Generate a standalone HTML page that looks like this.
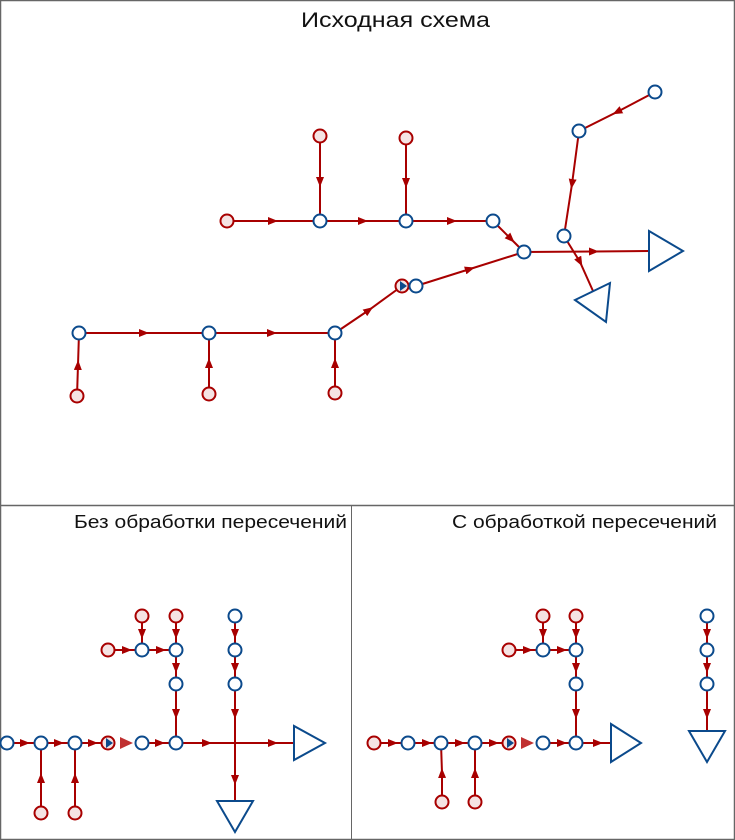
<!DOCTYPE html>
<html><head><meta charset="utf-8"><style>
html,body{margin:0;padding:0;background:#fff}
svg{display:block}
text{font-family:"Liberation Sans",sans-serif;fill:#111}
.e{stroke:#a80000;stroke-width:2;fill:none;marker-mid:url(#a)}
.r{fill:#f5e3e3;stroke:#a80000;stroke-width:2}
.b{fill:#fff;stroke:#0b4a8c;stroke-width:2}
.t{fill:#fff;stroke:#0b4a8c;stroke-width:2;stroke-linejoin:miter}
</style></head><body>
<svg width="735" height="840" viewBox="0 0 735 840" xmlns="http://www.w3.org/2000/svg">
<defs>
<marker id="a" viewBox="0 0 10 10" refX="5" refY="5" markerWidth="10" markerHeight="8" orient="auto" markerUnits="userSpaceOnUse" preserveAspectRatio="none"><path d="M0,0 L10,5 L0,10 z" fill="#a80000"/></marker>
</defs>
<rect x="0.5" y="0.5" width="734" height="839" fill="none" stroke="#666" stroke-width="1.5"/>
<line x1="0" y1="505.5" x2="735" y2="505.5" stroke="#666" stroke-width="1.5"/>
<line x1="351.5" y1="505" x2="351.5" y2="840" stroke="#666" stroke-width="1"/>
<text x="301" y="27" font-size="21" textLength="189" lengthAdjust="spacingAndGlyphs">Исходная схема</text>
<text x="74" y="528" font-size="18" textLength="273" lengthAdjust="spacingAndGlyphs">Без обработки пересечений</text>
<text x="452" y="528" font-size="18" textLength="265" lengthAdjust="spacingAndGlyphs">С обработкой пересечений</text>

<!-- TOP -->
<path class="e" d="M227,221 L273,221 L320,221"/>
<path class="e" d="M320,221 L363,221 L406,221"/>
<path class="e" d="M406,221 L452,221 L493,221"/>
<path class="e" d="M320,136 L320,182 L320,221"/>
<path class="e" d="M406,138 L406,183 L406,221"/>
<path class="e" d="M493,221 L511,239 L524,252"/>
<path class="e" d="M416,286 L470,269 L524,252"/>
<path class="e" d="M524,252 L594,251.5 L649,251"/>
<path class="e" d="M655,92 L617,112 L579,131"/>
<path class="e" d="M579,131 L572,184 L564,236"/>
<path class="e" d="M564,236 L580,262 L593,291"/>
<path class="e" d="M79,333 L144,333 L209,333"/>
<path class="e" d="M209,333 L272,333 L335,333"/>
<path class="e" d="M335,333 L369,310 L402,286"/>
<path class="e" d="M77,396 L78,365 L79,333"/>
<path class="e" d="M209,394 L209,363 L209,333"/>
<path class="e" d="M335,393 L335,363 L335,333"/>
<polygon class="t" points="649,231 649,271 683,251"/>
<polygon class="t" points="575,300 610,283 606,322"/>
<circle class="r" cx="227" cy="221" r="6.5"/>
<circle class="r" cx="320" cy="136" r="6.5"/>
<circle class="r" cx="406" cy="138" r="6.5"/>
<circle class="r" cx="77" cy="396" r="6.5"/>
<circle class="r" cx="209" cy="394" r="6.5"/>
<circle class="r" cx="335" cy="393" r="6.5"/>
<circle class="r" cx="402" cy="286" r="6.5" fill="#fff"/>
<path d="M400,281 L407,286 L400,291 z" fill="#0b4a8c"/>
<circle class="b" cx="320" cy="221" r="6.5"/>
<circle class="b" cx="406" cy="221" r="6.5"/>
<circle class="b" cx="493" cy="221" r="6.5"/>
<circle class="b" cx="524" cy="252" r="6.5"/>
<circle class="b" cx="564" cy="236" r="6.5"/>
<circle class="b" cx="579" cy="131" r="6.5"/>
<circle class="b" cx="655" cy="92" r="6.5"/>
<circle class="b" cx="79" cy="333" r="6.5"/>
<circle class="b" cx="209" cy="333" r="6.5"/>
<circle class="b" cx="335" cy="333" r="6.5"/>
<circle class="b" cx="416" cy="286" r="6.5"/>

<!-- BOTTOM LEFT -->
<path class="e" d="M7,743 L25,743 L41,743"/>
<path class="e" d="M41,743 L59,743 L75,743"/>
<path class="e" d="M75,743 L93,743 L108,743"/>
<path class="e" d="M142,743 L160,743 L176,743"/>
<path class="e" d="M176,743 L207,743 L235,743"/>
<path class="e" d="M235,743 L273,743 L294,743"/>
<path d="M120,737 L133,743 L120,749 z" fill="#c03030"/>
<path class="e" d="M41,813 L41,778 L41,743"/>
<path class="e" d="M75,813 L75,778 L75,743"/>
<path class="e" d="M108,650 L127,650 L142,650"/>
<path class="e" d="M142,650 L161,650 L176,650"/>
<path class="e" d="M142,616 L142,634 L142,650"/>
<path class="e" d="M176,616 L176,634 L176,650"/>
<path class="e" d="M176,650 L176,668 L176,684"/>
<path class="e" d="M176,684 L176,714 L176,743"/>
<path class="e" d="M235,616 L235,634 L235,650"/>
<path class="e" d="M235,650 L235,668 L235,684"/>
<path class="e" d="M235,684 L235,714 L235,743"/>
<path class="e" d="M235,743 L235,780 L235,800"/>
<polygon class="t" points="294,726 294,760 325,743"/>
<polygon class="t" points="217,801 253,801 235,832"/>
<circle class="b" cx="7" cy="743" r="6.5"/>
<circle class="b" cx="41" cy="743" r="6.5"/>
<circle class="b" cx="75" cy="743" r="6.5"/>
<circle class="r" cx="108" cy="743" r="6.5" fill="#fff"/>
<path d="M106,738 L113,743 L106,748 z" fill="#0b4a8c"/>
<circle class="b" cx="142" cy="743" r="6.5"/>
<circle class="b" cx="176" cy="743" r="6.5"/>
<circle class="r" cx="41" cy="813" r="6.5"/>
<circle class="r" cx="75" cy="813" r="6.5"/>
<circle class="r" cx="108" cy="650" r="6.5"/>
<circle class="r" cx="142" cy="616" r="6.5"/>
<circle class="r" cx="176" cy="616" r="6.5"/>
<circle class="b" cx="142" cy="650" r="6.5"/>
<circle class="b" cx="176" cy="650" r="6.5"/>
<circle class="b" cx="176" cy="684" r="6.5"/>
<circle class="b" cx="235" cy="616" r="6.5"/>
<circle class="b" cx="235" cy="650" r="6.5"/>
<circle class="b" cx="235" cy="684" r="6.5"/>

<!-- BOTTOM RIGHT -->
<path class="e" d="M374,743 L393,743 L408,743"/>
<path class="e" d="M408,743 L427,743 L441,743"/>
<path class="e" d="M441,743 L460,743 L475,743"/>
<path class="e" d="M475,743 L494,743 L509,743"/>
<path class="e" d="M543,743 L562,743 L576,743"/>
<path class="e" d="M576,743 L598,743 L611,743"/>
<path d="M521,737 L534,743 L521,749 z" fill="#c03030"/>
<path class="e" d="M442,802 L442,773 L441,743"/>
<path class="e" d="M475,802 L475,773 L475,743"/>
<path class="e" d="M509,650 L528,650 L543,650"/>
<path class="e" d="M543,650 L562,650 L576,650"/>
<path class="e" d="M543,616 L543,634 L543,650"/>
<path class="e" d="M576,616 L576,634 L576,650"/>
<path class="e" d="M576,650 L576,668 L576,684"/>
<path class="e" d="M576,684 L576,714 L576,743"/>
<path class="e" d="M707,616 L707,634 L707,650"/>
<path class="e" d="M707,650 L707,668 L707,684"/>
<path class="e" d="M707,684 L707,714 L707,731"/>
<polygon class="t" points="611,724 611,762 641,743"/>
<polygon class="t" points="689,731 725,731 707,762"/>
<circle class="r" cx="374" cy="743" r="6.5"/>
<circle class="b" cx="408" cy="743" r="6.5"/>
<circle class="b" cx="441" cy="743" r="6.5"/>
<circle class="b" cx="475" cy="743" r="6.5"/>
<circle class="r" cx="509" cy="743" r="6.5" fill="#fff"/>
<path d="M507,738 L514,743 L507,748 z" fill="#0b4a8c"/>
<circle class="b" cx="543" cy="743" r="6.5"/>
<circle class="b" cx="576" cy="743" r="6.5"/>
<circle class="r" cx="442" cy="802" r="6.5"/>
<circle class="r" cx="475" cy="802" r="6.5"/>
<circle class="r" cx="509" cy="650" r="6.5"/>
<circle class="r" cx="543" cy="616" r="6.5"/>
<circle class="r" cx="576" cy="616" r="6.5"/>
<circle class="b" cx="543" cy="650" r="6.5"/>
<circle class="b" cx="576" cy="650" r="6.5"/>
<circle class="b" cx="576" cy="684" r="6.5"/>
<circle class="b" cx="707" cy="616" r="6.5"/>
<circle class="b" cx="707" cy="650" r="6.5"/>
<circle class="b" cx="707" cy="684" r="6.5"/>
</svg>
</body></html>
